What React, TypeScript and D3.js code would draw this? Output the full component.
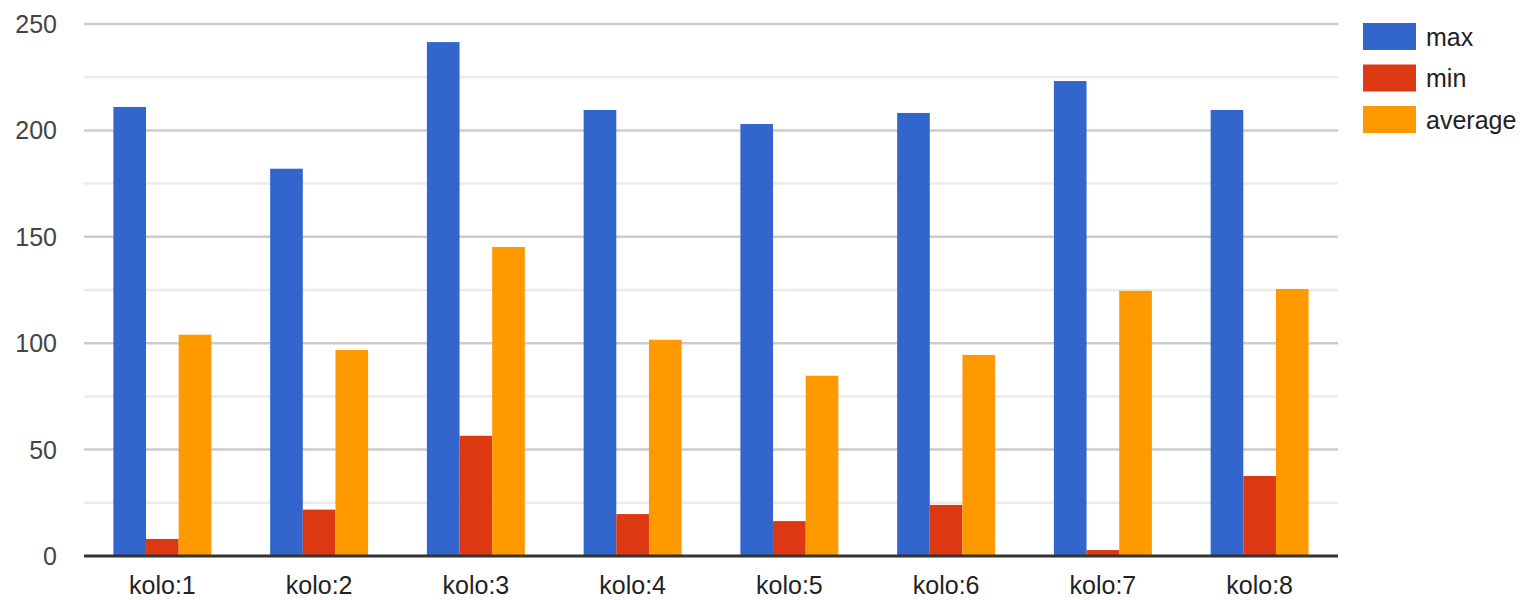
import React from "react";
import * as d3 from "d3";

const categories = ["kolo:1", "kolo:2", "kolo:3", "kolo:4", "kolo:5", "kolo:6", "kolo:7", "kolo:8"];
const seriesNames = ["max", "min", "average"];
const maxValues = [211, 182, 241.5, 209.6, 203, 208.2, 223.2, 209.6];
const minValues = [8, 21.8, 56.5, 19.7, 16.4, 24, 2.8, 37.6];
const avgValues = [104, 96.8, 145.2, 101.6, 84.7, 94.5, 124.6, 125.5];
const colors = ["#3366cc", "#dc3912", "#ff9900"];
const majorTicks = [0, 50, 100, 150, 200, 250];
const minorTicks = [25, 75, 125, 175, 225];

export default function App() {
  const W = 1524, H = 600;
  const left = 84, right = 1338, top = 24, bottom = 556;
  const series = [maxValues, minValues, avgValues];
  const y = d3.scaleLinear().domain([0, 250]).range([bottom, top]);
  const x0 = d3.scaleBand<string>().domain(categories).range([left, right]).paddingInner(0.375).paddingOuter(0.1875);
  const x1 = d3.scaleBand<string>().domain(seriesNames).range([0, x0.bandwidth()]);
  const font = "Liberation Sans, Arial, sans-serif";
  return (
    <svg width={W} height={H} style={{ position: "absolute", left: 0, top: 0, background: "#fff" }} fontFamily={font}>
      {minorTicks.map((t) => (
        <line key={"m" + t} x1={left} x2={right} y1={y(t)} y2={y(t)} stroke="#ebebeb" strokeWidth={2.5} />
      ))}
      {majorTicks.filter((t) => t !== 0).map((t) => (
        <line key={"g" + t} x1={left} x2={right} y1={y(t)} y2={y(t)} stroke="#cccccc" strokeWidth={2.5} />
      ))}
      {majorTicks.map((t) => (
        <text key={"t" + t} x={57} y={y(t)} dy="0.36em" textAnchor="end" fontSize={25} fill="#444">{t}</text>
      ))}
      {categories.map((c, i) => (
        <g key={c}>
          {seriesNames.map((s, j) => {
            const v = series[j][i];
            return (
              <rect key={s} x={(x0(c) as number) + (x1(s) as number)} width={x1.bandwidth()} y={y(v)} height={y(0) - y(v)} fill={colors[j]} />
            );
          })}
          <text x={(x0(c) as number) + x0.bandwidth() / 2} y={594} textAnchor="middle" fontSize={25} fill="#222">{c}</text>
        </g>
      ))}
      <line x1={left} x2={right} y1={y(0)} y2={y(0)} stroke="#333" strokeWidth={3} />
      {seriesNames.map((s, j) => (
        <g key={s} transform={`translate(1363, ${23 + j * 41.5})`}>
          <rect width={53} height={27} fill={colors[j]} />
          <text x={63} y={13.5} dy="0.36em" fontSize={25} fill="#222">{s}</text>
        </g>
      ))}
    </svg>
  );
}
